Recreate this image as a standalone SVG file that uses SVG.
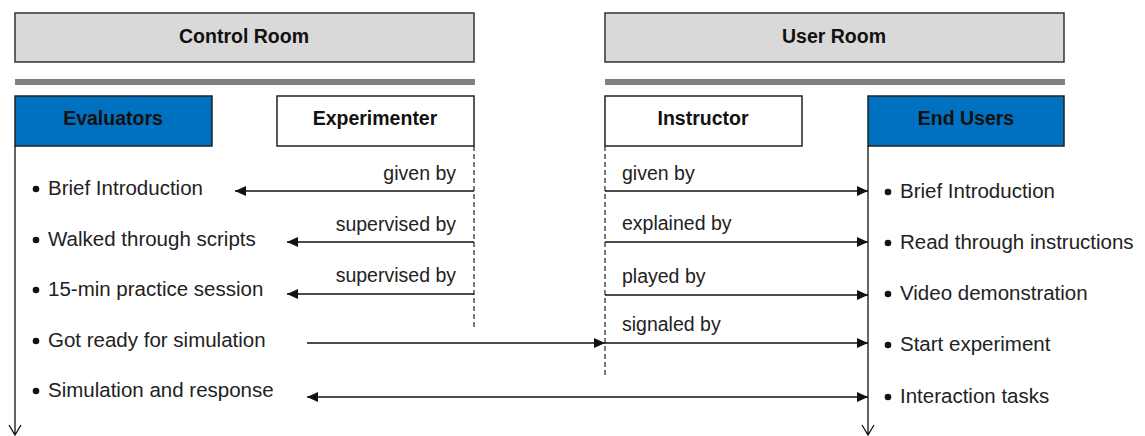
<svg xmlns="http://www.w3.org/2000/svg" width="1145" height="436" viewBox="0 0 1145 436">
<style>
.room{fill:#d9d9d9;stroke:#333;stroke-width:1.5}
.blue{fill:#0070c0;stroke:#222;stroke-width:1.5}
.white{fill:#fff;stroke:#222;stroke-width:1.5}
.bar{fill:#808080}
.hd{font-family:"Liberation Sans",Arial,sans-serif;font-weight:bold;font-size:19.5px;fill:#111;text-anchor:middle}
.tx{font-family:"Liberation Sans",Arial,sans-serif;font-size:20.5px;fill:#222}
.lbl{font-family:"Liberation Sans",Arial,sans-serif;font-size:19.5px;fill:#222}
.life{stroke:#111;stroke-width:1.3;fill:none}
.dash{stroke:#222;stroke-width:1.2;stroke-dasharray:5,3;fill:none}
.arr{stroke:#111;stroke-width:1.6;fill:none;marker-end:url(#ah)}
.arr2{stroke:#111;stroke-width:1.6;fill:none;marker-end:url(#ah);marker-start:url(#ah)}
.bul{fill:#111}
</style>
<defs>
<marker id="ah" markerUnits="userSpaceOnUse" markerWidth="12" markerHeight="10" refX="11" refY="5" orient="auto-start-reverse">
<path d="M0,0 L11,5 L0,10 z" fill="#111"/>
</marker>
</defs>
<g id="control-room">
<rect class="room" x="15" y="13" width="459" height="49"/>
<text class="hd" x="244" y="43">Control Room</text>
<rect class="bar" x="15" y="79" width="460" height="6"/>
</g>
<g id="user-room">
<rect class="room" x="605" y="13" width="459" height="49"/>
<text class="hd" x="834" y="43">User Room</text>
<rect class="bar" x="605" y="79" width="460" height="6"/>
</g>
<g id="evaluators">
<rect class="blue" x="15" y="96" width="197" height="50"/>
<text class="hd" x="113" y="125">Evaluators</text>
<path class="life" d="M15,146 V435 M9,425 L15,435 L21,425"/>
<circle class="bul" cx="36" cy="189" r="3.3"/>
<text class="tx" x="48" y="195">Brief Introduction</text>
<circle class="bul" cx="36" cy="240" r="3.3"/>
<text class="tx" x="48" y="246">Walked through scripts</text>
<circle class="bul" cx="36" cy="290" r="3.3"/>
<text class="tx" x="48" y="296">15-min practice session</text>
<circle class="bul" cx="36" cy="341" r="3.3"/>
<text class="tx" x="48" y="347">Got ready for simulation</text>
<circle class="bul" cx="36" cy="391" r="3.3"/>
<text class="tx" x="48" y="397">Simulation and response</text>
</g>
<g id="experimenter">
<rect class="white" x="277" y="96" width="197" height="50"/>
<text class="hd" x="375" y="125">Experimenter</text>
<path class="dash" d="M474,146 V329"/>
</g>
<g id="instructor">
<rect class="white" x="605" y="96" width="197" height="50"/>
<text class="hd" x="703" y="125">Instructor</text>
<path class="dash" d="M605,146 V375"/>
</g>
<g id="end-users">
<rect class="blue" x="868" y="96" width="196" height="50"/>
<text class="hd" x="966" y="125">End Users</text>
<path class="life" d="M868,146 V435 M862,425 L868,435 L874,425"/>
<circle class="bul" cx="888" cy="192" r="3.3"/>
<text class="tx" x="900" y="198">Brief Introduction</text>
<circle class="bul" cx="888" cy="243" r="3.3"/>
<text class="tx" x="900" y="249">Read through instructions</text>
<circle class="bul" cx="888" cy="294" r="3.3"/>
<text class="tx" x="900" y="300">Video demonstration</text>
<circle class="bul" cx="888" cy="345" r="3.3"/>
<text class="tx" x="900" y="351">Start experiment</text>
<circle class="bul" cx="888" cy="397" r="3.3"/>
<text class="tx" x="900" y="403">Interaction tasks</text>
</g>
<g id="connectors">
<line class="arr" x1="474" y1="191" x2="235" y2="191"/>
<text class="lbl" x="456" y="180" text-anchor="end">given by</text>
<line class="arr" x1="474" y1="242" x2="287" y2="242"/>
<text class="lbl" x="456" y="231" text-anchor="end">supervised by</text>
<line class="arr" x1="474" y1="294" x2="287" y2="294"/>
<text class="lbl" x="456" y="282" text-anchor="end">supervised by</text>
<line class="arr" x1="605" y1="191" x2="868" y2="191"/>
<text class="lbl" x="622" y="180">given by</text>
<line class="arr" x1="605" y1="242" x2="868" y2="242"/>
<text class="lbl" x="622" y="230">explained by</text>
<line class="arr" x1="605" y1="295" x2="868" y2="295"/>
<text class="lbl" x="622" y="283">played by</text>
<line class="arr" x1="307" y1="343" x2="605" y2="343"/>
<line class="arr" x1="605" y1="343" x2="868" y2="343"/>
<text class="lbl" x="622" y="331">signaled by</text>
<line class="arr2" x1="307" y1="397" x2="868" y2="397"/>
</g>
</svg>
